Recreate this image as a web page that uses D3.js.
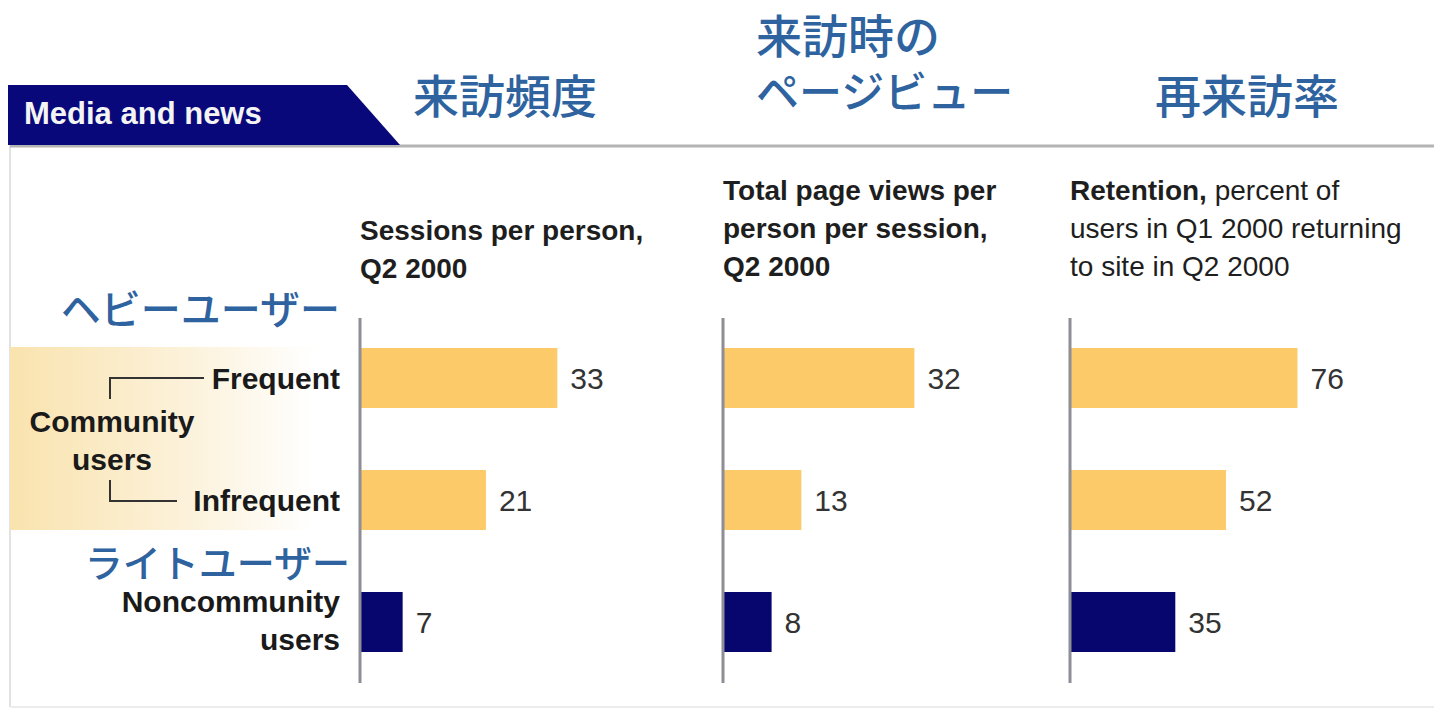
<!DOCTYPE html>
<html>
<head>
<meta charset="utf-8">
<script src="https://cdn.jsdelivr.net/npm/d3@7"></script>
<style>
  body { margin: 0; background: #fff; }
  svg { display: block; }
</style>
</head>
<body>
<div id="chart"></div>
<script>
// datos del gráfico
var groups = ["Frequent", "Infrequent", "Noncommunity"],
	sessions = [33, 21, 7],
	pageViews = [32, 13, 8],
	retention = [76, 52, 35],
	barColors = ["#fdca69", "#fdca69", "#06066e"];

var panelTitles = [
	[["Sessions per person,"], ["Q2 2000"]],
	[["Total page views per"], ["person per session,"], ["Q2 2000"]],
	[["Retention,", "percent of"], ["users in Q1 2000 returning"], ["to site in Q2 2000"]]
];
var jpTitles = [["来訪頻度"], ["来訪時の", "ページビュー"], ["再来訪率"]];

var width = 1434, height = 710,
	narrow = "'Liberation Sans Narrow', 'Liberation Sans', Arial, sans-serif",
	jp = "'Noto Sans CJK JP', 'Noto Sans', sans-serif",
	blue = "#2e63a0";

var svg = d3.select("#chart").append("svg")
	.attr("width", width)
	.attr("height", height);

var defs = svg.append("defs");
var grad = defs.append("linearGradient").attr("id", "band");
grad.append("stop").attr("offset", "0%").attr("stop-color", "#f9e3ae");
grad.append("stop").attr("offset", "55%").attr("stop-color", "#fcf1d8");
grad.append("stop").attr("offset", "100%").attr("stop-color", "#ffffff");

// marco
svg.append("line").attr("x1", 10).attr("x2", 10).attr("y1", 145).attr("y2", 707)
	.style("stroke", "#e2e2e2").style("stroke-width", 2);
svg.append("line").attr("x1", 10).attr("x2", width).attr("y1", 707).attr("y2", 707)
	.style("stroke", "#ececec").style("stroke-width", 2);
svg.append("line").attr("x1", 10).attr("x2", width).attr("y1", 146).attr("y2", 146)
	.style("stroke", "#b4b4b4").style("stroke-width", 3);

// cabecera
svg.append("path")
	.attr("d", "M8,85 L347,85 L400,145 L8,145 Z")
	.style("fill", "#08087a");
svg.append("text")
	.attr("x", 24).attr("y", 124)
	.style("font-family", narrow).style("font-weight", "bold")
	.style("font-size", "31px").style("fill", "#f4f4f4")
	.text("Media and news");

// banda amarilla de los usuarios de comunidad
svg.append("rect")
	.attr("x", 10).attr("y", 347).attr("width", 305).attr("height", 183)
	.style("fill", "url(#band)");

var y = d3.scaleBand()
	.domain(groups)
	.range([348, 652])
	.paddingInner(62 / 122)
	.paddingOuter(0);

// etiquetas de la izquierda
var labelFont = function (sel) {
	return sel.style("font-family", narrow).style("font-weight", "bold")
		.style("font-size", "30px").style("fill", "#1a1a1a");
};
labelFont(svg.append("text").attr("x", 340).attr("y", y("Frequent") + y.bandwidth() / 2 + 11)
	.attr("text-anchor", "end").text("Frequent"));
labelFont(svg.append("text").attr("x", 340).attr("y", y("Infrequent") + y.bandwidth() / 2 + 11)
	.attr("text-anchor", "end").text("Infrequent"));
labelFont(svg.append("text").attr("x", 112).attr("y", 432)
	.attr("text-anchor", "middle").text("Community"));
labelFont(svg.append("text").attr("x", 112).attr("y", 470)
	.attr("text-anchor", "middle").text("users"));
labelFont(svg.append("text").attr("x", 340).attr("y", 612)
	.attr("text-anchor", "end").text("Noncommunity"));
labelFont(svg.append("text").attr("x", 340).attr("y", 650)
	.attr("text-anchor", "end").text("users"));

svg.append("path")
	.attr("d", "M110,399 L110,378 L204,378")
	.style("fill", "none").style("stroke", "#333").style("stroke-width", 2);
svg.append("path")
	.attr("d", "M110,480 L110,501 L177,501")
	.style("fill", "none").style("stroke", "#333").style("stroke-width", 2);

// rótulos japoneses
svg.append("text").attr("x", 340).attr("y", 307).attr("dominant-baseline", "central")
	.attr("text-anchor", "end")
	.style("font-family", jp).style("font-weight", 500).style("font-size", "40px").style("fill", blue)
	.text("ヘビーユーザー");
svg.append("text").attr("x", 350).attr("y", 560).attr("dominant-baseline", "central")
	.attr("text-anchor", "end")
	.style("font-family", jp).style("font-weight", 500).style("font-size", "38px").style("fill", blue)
	.text("ライトユーザー");

// paneles
var panels = [
	{ values: sessions, axisX: 360, max: 40, span: 238, jpX: 413, jpY: 113, jpSize: [46] },
	{ values: pageViews, axisX: 723, max: 40, span: 238, jpX: 756, jpY: 53, jpSize: [46, 43] },
	{ values: retention, axisX: 1070, max: 100, span: 298, jpX: 1155, jpY: 113, jpSize: [46] }
];
var titleTop = [240, 200, 200];

panels.forEach(function (p, i) {
	var x = d3.scaleLinear().domain([0, p.max]).range([p.axisX + 1, p.axisX + 1 + p.span]);
	var g = svg.append("g");

	var jt = g.append("text").attr("x", p.jpX).attr("y", p.jpY)
		.style("font-family", jp).style("font-weight", 500).style("fill", blue);
	jpTitles[i].forEach(function (t, j) {
		jt.append("tspan").attr("x", p.jpX).attr("dy", j == 0 ? 0 : 55)
			.style("font-size", p.jpSize[j] + "px")
			.text(t);
	});

	panelTitles[i].forEach(function (line, j) {
		var t = g.append("text").attr("x", p.axisX).attr("y", titleTop[i] + j * 38)
			.style("font-family", narrow).style("font-size", "28px").style("fill", "#1e1e1e");
		line.forEach(function (part, k) {
			var bold = !(i == 2 && (j > 0 || k > 0));
			t.append("tspan").style("font-weight", bold ? "bold" : "normal")
				.text((k > 0 ? " " : "") + part);
		});
	});

	g.selectAll(".bar")
		.data(p.values)
		.enter()
		.append("rect")
		.attr("class", "bar")
		.attr("x", x(0))
		.attr("y", function (d, k) { return y(groups[k]); })
		.attr("width", function (d) { return x(d) - x(0); })
		.attr("height", y.bandwidth())
		.style("fill", function (d, k) { return barColors[k]; });

	g.selectAll(".val")
		.data(p.values)
		.enter()
		.append("text")
		.attr("class", "val")
		.attr("x", function (d) { return x(d) + 13; })
		.attr("y", function (d, k) { return y(groups[k]) + y.bandwidth() / 2 + 11; })
		.style("font-family", narrow).style("font-size", "30px").style("fill", "#333")
		.text(function (d) { return d; });

	g.append("line")
		.attr("x1", p.axisX).attr("x2", p.axisX)
		.attr("y1", 318).attr("y2", 683)
		.style("stroke", "#8e8e96").style("stroke-width", 3);
});
</script>
</body>
</html>
